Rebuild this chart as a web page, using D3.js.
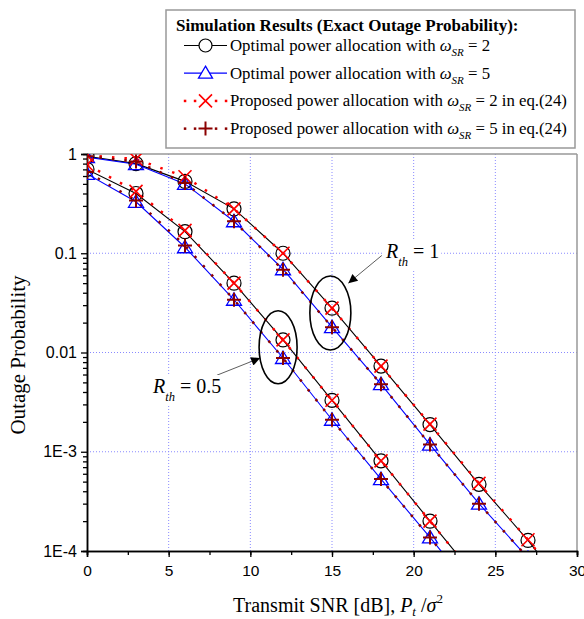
<!DOCTYPE html>
<html>
<head>
<meta charset="utf-8">
<script src="https://cdn.jsdelivr.net/npm/d3@7"></script>
<style>
  body { margin: 0; background: #fff; }
  svg { display: block; }
</style>
</head>
<body>
<svg id="chart" width="584" height="619"></svg>
<script>
// transmit SNR (dB)
var snr = [0, 3, 6, 9, 12, 15, 18, 21, 24, 27, 30];

// R_th = 1
var opt2_r1  = [0.95, 0.80, 0.53, 0.28, 0.10, 0.028, 0.0073, 0.00188, 4.7e-4, 1.28e-4, 3.0e-5];
var opt5_r1  = [0.93, 0.79, 0.50, 0.21, 0.069, 0.018, 0.0048, 0.00118, 3.0e-4, 8.5e-5, 2.3e-5];
var prop2_r1 = [0.97, 0.89, 0.59, 0.28, 0.10, 0.028, 0.0073, 0.0019, 4.8e-4, 1.3e-4, 3.1e-5];
var prop5_r1 = [0.95, 0.84, 0.51, 0.21, 0.068, 0.018, 0.0048, 0.00118, 3.0e-4, 8.5e-5, 2.3e-5];

// R_th = 0.5
var opt2_r05  = [0.70, 0.40, 0.165, 0.05, 0.0134, 0.0033, 8.1e-4, 2.0e-4, 5.0e-5];
var opt5_r05  = [0.63, 0.33, 0.115, 0.034, 0.0088, 0.0021, 5.3e-4, 1.37e-4, 3.4e-5];
var prop2_r05 = [0.78, 0.42, 0.17, 0.05, 0.0134, 0.0033, 8.1e-4, 2.0e-4, 5.0e-5];
var prop5_r05 = [0.66, 0.34, 0.12, 0.034, 0.0088, 0.0021, 5.3e-4, 1.37e-4, 3.4e-5];

var xTicks = [0, 5, 10, 15, 20, 25, 30];
var yTicks = [1, 0.1, 0.01, 1e-3, 1e-4];
var yTickLabels = ["1", "0.1", "0.01", "1E-3", "1E-4"];

var legendLabels = [
  ["Optimal power allocation with ", " = 2"],
  ["Optimal power allocation with ", " = 5"],
  ["Proposed power allocation with ", " = 2 in eq.(24)"],
  ["Proposed power allocation with ", " = 5 in eq.(24)"]
];

var svg = d3.select('#chart');

var x = d3.scaleLinear().domain([0, 30]).range([87, 577]);
var y = d3.scaleLog().domain([1e-4, 1]).range([551, 154]);

var serif = "'Liberation Serif', 'Times New Roman', serif";
var sans = "'Liberation Sans', Arial, sans-serif";

var defs = svg.append('defs');
defs.append('clipPath').attr('id', 'plotclip')
  .append('rect')
  .attr('x', x(0)).attr('y', y(1))
  .attr('width', x(30) - x(0)).attr('height', y(1e-4) - y(1));

// grid
var grid = svg.append('g');
grid.selectAll('.vg').data(xTicks.slice(1, -1)).enter().append('line')
  .attr('x1', d => x(d)).attr('x2', d => x(d))
  .attr('y1', y(1)).attr('y2', y(1e-4))
  .attr('stroke', '#8a8aff').attr('stroke-width', 1).attr('stroke-dasharray', '1,2');
grid.selectAll('.hg').data(yTicks.slice(1, -1)).enter().append('line')
  .attr('x1', x(0)).attr('x2', x(30))
  .attr('y1', d => y(d)).attr('y2', d => y(d))
  .attr('stroke', '#8a8aff').attr('stroke-width', 1).attr('stroke-dasharray', '1,2');

// frame top / right
svg.append('line').attr('x1', x(0)).attr('x2', x(30)).attr('y1', y(1)).attr('y2', y(1))
  .attr('stroke', '#999').attr('stroke-width', 1.5);
svg.append('line').attr('x1', x(30)).attr('x2', x(30)).attr('y1', y(1)).attr('y2', y(1e-4))
  .attr('stroke', '#999').attr('stroke-width', 1.5);

// axes
var xMinor = d3.range(0, 30.01, 2.5);
var xAxis = svg.append('g').attr('transform', 'translate(0,' + y(1e-4) + ')')
  .call(d3.axisBottom(x).tickValues(xMinor).tickSize(4).tickFormat(''));
xAxis.append('g').call(d3.axisBottom(x).tickValues(xTicks).tickSize(6).tickPadding(8).tickFormat(d3.format('d')));
xAxis.selectAll('path').attr('stroke', '#000').attr('stroke-width', 1.5);
xAxis.selectAll('.tick line').attr('stroke', '#000').attr('stroke-width', 1.3);
xAxis.selectAll('text').attr('font-family', sans).attr('font-size', 15.5).attr('fill', '#000');

var yMinor = [];
[1e-4, 1e-3, 1e-2, 1e-1].forEach(function(dec) {
  for (var k = 2; k <= 9; k++) yMinor.push(dec * k);
});
var yAxis = svg.append('g').attr('transform', 'translate(' + x(0) + ',0)')
  .call(d3.axisLeft(y).tickValues(yMinor).tickSize(4).tickFormat(''));
yAxis.append('g').call(d3.axisLeft(y).tickValues(yTicks).tickSize(6).tickPadding(4)
  .tickFormat(function(d, i) { return yTickLabels[i]; }));
yAxis.selectAll('path').attr('stroke', '#000').attr('stroke-width', 1.5);
yAxis.selectAll('.tick line').attr('stroke', '#000').attr('stroke-width', 1.3);
yAxis.selectAll('text').attr('font-family', sans).attr('font-size', 16).attr('fill', '#000');

// axis titles
var xt = svg.append('text').attr('x', 338).attr('y', 612).attr('text-anchor', 'middle')
  .attr('font-family', serif).attr('font-size', 20).attr('fill', '#000');
xt.append('tspan').text('Transmit SNR [dB],  ');
xt.append('tspan').attr('font-style', 'italic').text('P');
xt.append('tspan').attr('font-style', 'italic').attr('font-size', 13).attr('dy', 4).text('t');
xt.append('tspan').attr('dy', -4).text(' /');
xt.append('tspan').attr('font-style', 'italic').text('σ');
xt.append('tspan').attr('font-size', 13).attr('dy', -9).text('2');

svg.append('text')
  .attr('transform', 'translate(25,355) rotate(-90)')
  .attr('text-anchor', 'middle')
  .attr('font-family', serif).attr('font-size', 21).attr('fill', '#000')
  .text('Outage Probability');

// series
var plot = svg.append('g').attr('clip-path', 'url(#plotclip)');

function pts(vals) {
  return vals.map(function(v, i) { return [snr[i], v]; });
}
var line = d3.line().x(d => x(d[0])).y(d => y(d[1]));

var series = [
  { vals: opt2_r1, color: '#000', kind: 'circle' },
  { vals: opt2_r05, color: '#000', kind: 'circle' },
  { vals: opt5_r1, color: '#0000ff', kind: 'tri' },
  { vals: opt5_r05, color: '#0000ff', kind: 'tri' },
  { vals: prop2_r1, color: '#ff0000', kind: 'x' },
  { vals: prop2_r05, color: '#ff0000', kind: 'x' },
  { vals: prop5_r1, color: '#8b0000', kind: 'plus' },
  { vals: prop5_r05, color: '#8b0000', kind: 'plus' }
];

function dotted(k) { return k === 'x' || k === 'plus'; }

series.forEach(function(s) {
  plot.append('path').datum(pts(s.vals))
    .attr('fill', 'none')
    .attr('stroke', s.color)
    .attr('stroke-width', dotted(s.kind) ? 2.5 : 1.1)
    .attr('stroke-dasharray', dotted(s.kind) ? '2.5,10' : null)
    .attr('d', line);
});

function drawMarker(g, kind, color, cx, cy) {
  if (kind === 'circle') {
    g.append('circle').attr('cx', cx).attr('cy', cy).attr('r', 7)
      .attr('fill', 'none').attr('stroke', color).attr('stroke-width', 1.2);
  } else if (kind === 'tri') {
    g.append('path').attr('d', 'M' + cx + ',' + (cy - 7) + 'L' + (cx + 7.5) + ',' + (cy + 5.5) + 'L' + (cx - 7.5) + ',' + (cy + 5.5) + 'Z')
      .attr('fill', 'none').attr('stroke', color).attr('stroke-width', 1.3);
  } else if (kind === 'x') {
    g.append('path').attr('d', 'M' + (cx - 6.5) + ',' + (cy - 6.5) + 'L' + (cx + 6.5) + ',' + (cy + 6.5) +
      'M' + (cx + 6.5) + ',' + (cy - 6.5) + 'L' + (cx - 6.5) + ',' + (cy + 6.5))
      .attr('stroke', color).attr('stroke-width', 1.6);
  } else {
    g.append('path').attr('d', 'M' + (cx - 7) + ',' + cy + 'L' + (cx + 7) + ',' + cy +
      'M' + cx + ',' + (cy - 7) + 'L' + cx + ',' + (cy + 7))
      .attr('stroke', color).attr('stroke-width', 2);
  }
}

series.forEach(function(s) {
  pts(s.vals).forEach(function(p) {
    drawMarker(plot, s.kind, s.color, x(p[0]), y(p[1]));
  });
});

// annotations (data coordinates)
var ellipses = [
  { cx: 11.7, cy: 0.0113, rx: 19, ry: 36.5 },
  { cx: 14.9, cy: 0.025, rx: 20.5, ry: 37 }
];
svg.selectAll('.ell').data(ellipses).enter().append('ellipse')
  .attr('cx', d => x(d.cx)).attr('cy', d => y(d.cy))
  .attr('rx', d => d.rx).attr('ry', d => d.ry)
  .attr('fill', 'none').attr('stroke', '#000').attr('stroke-width', 1.6);

defs.append('marker')
  .attr('id', 'arrow').attr('viewBox', '0 0 10 10').attr('refX', 10).attr('refY', 5)
  .attr('markerWidth', 12).attr('markerHeight', 9).attr('markerUnits', 'userSpaceOnUse')
  .attr('orient', 'auto')
  .append('path').attr('d', 'M0,0L10,5L0,10Z').attr('fill', '#000');

var arrows = [
  { x1: 7.95, y1: 0.0059, x2: 10.6, y2: 0.0088 },
  { x1: 18.05, y1: 0.095, x2: 16.0, y2: 0.050 }
];
svg.selectAll('.arr').data(arrows).enter().append('line')
  .attr('x1', d => x(d.x1)).attr('y1', d => y(d.y1))
  .attr('x2', d => x(d.x2)).attr('y2', d => y(d.y2))
  .attr('stroke', '#333').attr('stroke-width', 0.8)
  .attr('marker-end', 'url(#arrow)');

function rthLabel(px, py, val) {
  var g = svg.append('g');
  var t = g.append('text').attr('x', px).attr('y', py)
    .attr('font-family', serif).attr('font-size', 20).attr('fill', '#000');
  t.append('tspan').attr('font-style', 'italic').text('R');
  t.append('tspan').attr('font-style', 'italic').attr('font-size', 12.5).attr('dy', 8).text('th');
  t.append('tspan').attr('dy', -8).text(' = ' + val);
  var bb = t.node().getBBox();
  g.insert('rect', 'text').attr('x', bb.x - 2).attr('y', bb.y).attr('width', bb.width + 4).attr('height', bb.height)
    .attr('fill', '#fff');
}
rthLabel(386, 258, '1');
rthLabel(153, 393, '0.5');

// legend
var lg = svg.append('g');
lg.append('rect').attr('x', 166).attr('y', 10).attr('width', 409).attr('height', 138)
  .attr('fill', '#fff').attr('stroke', '#999').attr('stroke-width', 1.5);
lg.append('text').attr('x', 176).attr('y', 31)
  .attr('font-family', serif).attr('font-size', 17).attr('font-weight', 'bold').attr('fill', '#000')
  .text('Simulation Results (Exact Outage Probability):');

var legendKinds = [['circle', '#000'], ['tri', '#0000ff'], ['x', '#ff0000'], ['plus', '#8b0000']];
legendKinds.forEach(function(k, i) {
  var cy = 45.5 + i * 27.7;
  if (dotted(k[0])) {
    [185, 195, 216, 226].forEach(function(dx) {
      lg.append('rect').attr('x', dx - 1.2).attr('y', cy - 1.2).attr('width', 2.5).attr('height', 2.5).attr('fill', k[1]);
    });
  } else {
    lg.append('line').attr('x1', 184).attr('x2', 227).attr('y1', cy).attr('y2', cy)
      .attr('stroke', k[1]).attr('stroke-width', 1.2);
  }
  if (k[0] === 'circle') {
    lg.append('circle').attr('cx', 205.5).attr('cy', cy).attr('r', 6.5)
      .attr('fill', '#fff').attr('stroke', k[1]).attr('stroke-width', 1.2);
  } else if (k[0] === 'tri') {
    lg.append('path').attr('d', 'M205.5,' + (cy - 7) + 'L212.5,' + (cy + 5) + 'L198.5,' + (cy + 5) + 'Z')
      .attr('fill', '#fff').attr('stroke', k[1]).attr('stroke-width', 1.3);
  } else {
    drawMarker(lg, k[0], k[1], 205.5, cy);
  }
  var t = lg.append('text').attr('x', 230).attr('y', cy + 5.5)
    .attr('font-family', serif).attr('font-size', 16.8).attr('fill', '#000');
  t.append('tspan').text(legendLabels[i][0]);
  t.append('tspan').attr('font-style', 'italic').text('ω');
  t.append('tspan').attr('font-style', 'italic').attr('font-size', 11).attr('dy', 5).text('SR');
  t.append('tspan').attr('dy', -5).text(legendLabels[i][1]);
});
</script>
</body>
</html>
